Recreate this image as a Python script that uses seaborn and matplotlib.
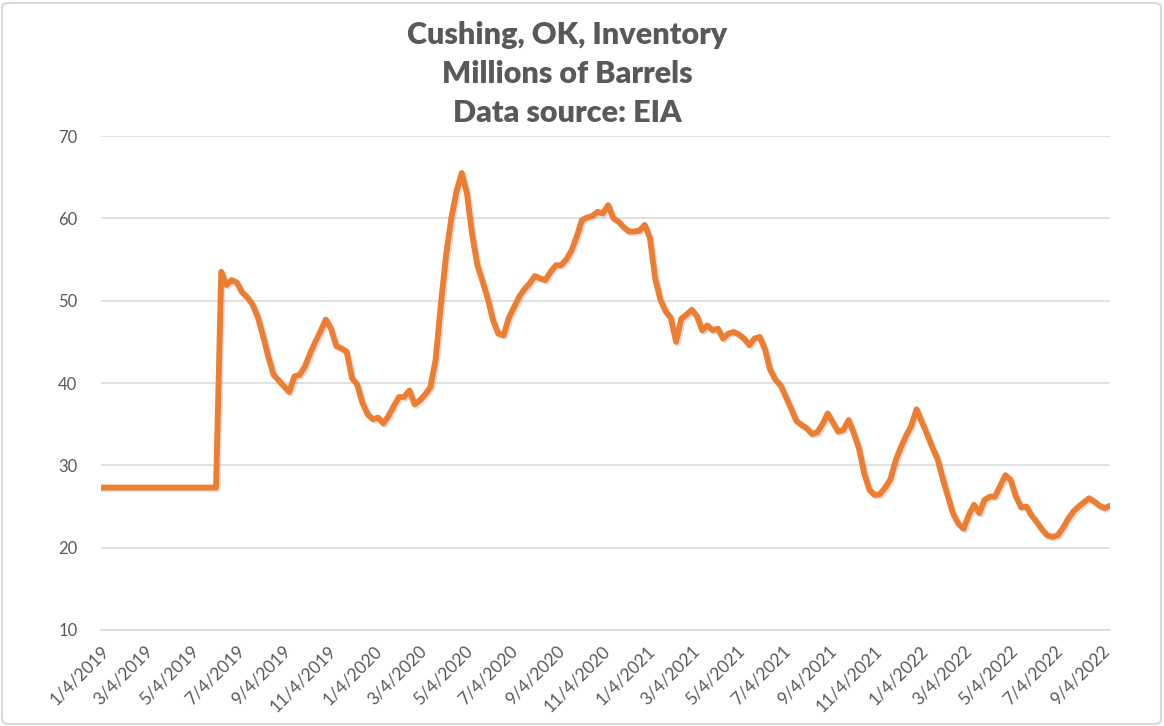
import numpy as np
import pandas as pd
import matplotlib
matplotlib.use("Agg")
import matplotlib.pyplot as plt
import matplotlib.dates as mdates
import matplotlib.patheffects as pe
from matplotlib.patches import FancyBboxPatch
import seaborn as sns

# ---------------- data ----------------
start_date = "2019-01-04"
n_weeks = 194
inventory = [
    27.3, 27.3, 27.3, 27.3, 27.3, 27.3, 27.3, 27.3, 27.3, 27.3,
    27.3, 27.3, 27.3, 27.3, 27.3, 27.3, 27.3, 27.3, 27.3, 27.3,
    27.3, 27.3, 27.3, 53.5, 51.9, 52.5, 52.2, 51.0, 50.4, 49.5,
    48.0, 45.7, 43.2, 41.0, 40.3, 39.6, 38.9, 40.8, 41.0, 42.0,
    43.6, 45.0, 46.3, 47.7, 46.6, 44.5, 44.2, 43.8, 40.6, 39.8,
    37.6, 36.2, 35.6, 35.8, 35.1, 36.0, 37.2, 38.3, 38.3, 39.1,
    37.4, 37.9, 38.6, 39.5, 42.8, 49.5, 55.5, 60.0, 63.3, 65.5,
    63.0, 58.0, 54.3, 52.3, 50.2, 47.6, 46.0, 45.8, 47.9, 49.2,
    50.5, 51.4, 52.1, 53.0, 52.7, 52.5, 53.5, 54.3, 54.3, 55.0,
    56.1, 57.8, 59.8, 60.1, 60.3, 60.8, 60.6, 61.6, 60.0, 59.6,
    58.9, 58.4, 58.4, 58.5, 59.2, 57.6, 52.7, 50.1, 48.7, 47.9,
    45.0, 47.8, 48.3, 48.9, 48.1, 46.4, 47.0, 46.4, 46.6, 45.4,
    46.0, 46.2, 45.9, 45.4, 44.6, 45.4, 45.6, 44.1, 41.6, 40.4,
    39.7, 38.3, 36.9, 35.4, 34.9, 34.5, 33.8, 34.0, 35.0, 36.3,
    35.2, 34.1, 34.3, 35.5, 33.9, 32.0, 29.0, 27.0, 26.4, 26.5,
    27.3, 28.3, 30.6, 32.2, 33.6, 34.8, 36.8, 35.3, 33.8, 32.2,
    30.8, 28.4, 26.2, 24.1, 22.9, 22.3, 24.0, 25.2, 24.2, 25.8,
    26.2, 26.2, 27.5, 28.8, 28.2, 26.2, 24.9, 25.0, 23.9, 23.1,
    22.2, 21.5, 21.3, 21.5, 22.4, 23.5, 24.4, 25.0, 25.5, 26.0,
    25.6, 25.1, 24.8, 25.1,
]
tick_dates = ["2019-01-04", "2019-03-04", "2019-05-04", "2019-07-04", "2019-09-04",
              "2019-11-04", "2020-01-04", "2020-03-04", "2020-05-04", "2020-07-04",
              "2020-09-04", "2020-11-04", "2021-01-04", "2021-03-04", "2021-05-04",
              "2021-07-04", "2021-09-04", "2021-11-04", "2022-01-04", "2022-03-04",
              "2022-05-04", "2022-07-04", "2022-09-04"]
tick_labels = ["1/4/2019", "3/4/2019", "5/4/2019", "7/4/2019", "9/4/2019",
               "11/4/2019", "1/4/2020", "3/4/2020", "5/4/2020", "7/4/2020",
               "9/4/2020", "11/4/2020", "1/4/2021", "3/4/2021", "5/4/2021",
               "7/4/2021", "9/4/2021", "11/4/2021", "1/4/2022", "3/4/2022",
               "5/4/2022", "7/4/2022", "9/4/2022"]
y_ticks = [10, 20, 30, 40, 50, 60, 70]
title_lines = ["Cushing, OK, Inventory", "Millions of Barrels", "Data source: EIA"]

dates = pd.date_range(start_date, periods=n_weeks, freq="7D")
df = pd.DataFrame({"date": dates, "inventory": inventory})

# ---------------- style ----------------
sns.set_theme(style="white")
plt.rcParams["font.family"] = ["Lato", "DejaVu Sans"]

TEXT = "#595959"
GRID = "#d9d9d9"
ORANGE = "#ED7D31"

fig = plt.figure(figsize=(11.64, 7.26), dpi=100)
fig.patch.set_facecolor("white")
ax = fig.add_axes([101 / 1164, 1 - 630 / 726, (1110 - 101) / 1164, (630 - 136) / 726])

sns.lineplot(data=df, x="date", y="inventory", ax=ax, color=ORANGE, linewidth=4.2,
             path_effects=[pe.SimpleLineShadow(offset=(1.2, -1.2), alpha=0.25, shadow_color="#7f7f7f"),
                           pe.Normal()])

ax.set_xlim(pd.Timestamp(tick_dates[0]), df["date"].iloc[-1])
ax.set_ylim(10, 70)
ax.set_yticks(y_ticks)
ax.set_yticklabels([str(v) for v in y_ticks])
ax.set_xticks([pd.Timestamp(d) for d in tick_dates])
ax.set_xticklabels(tick_labels, rotation=45, ha="right", rotation_mode="anchor")

ax.set_xlabel("")
ax.set_ylabel("")
ax.grid(axis="y", color=GRID, linewidth=1.1)
ax.grid(axis="x", visible=False)
ax.set_axisbelow(True)
for s in ["top", "right", "left"]:
    ax.spines[s].set_visible(False)
ax.spines["bottom"].set_color(GRID)
ax.spines["bottom"].set_linewidth(1.1)

ax.tick_params(axis="y", length=0, pad=17, labelsize=12, labelcolor=TEXT)
ax.tick_params(axis="x", length=5, width=1.1, color=GRID, direction="out",
               pad=4, labelsize=12.5, labelcolor=TEXT)

for i, ypix in enumerate([35, 74, 113]):
    fig.text(567 / 1164, 1 - ypix / 726, title_lines[i], ha="center", va="center",
             fontsize=22, fontweight="heavy", color=TEXT)

border = FancyBboxPatch((2 / 1164, 2 / 726), 1 - 5 / 1164, 1 - 5 / 726,
                        boxstyle="round,pad=0,rounding_size=0.006",
                        transform=fig.transFigure, fill=False,
                        edgecolor=GRID, linewidth=1.5)
fig.patches.append(border)

fig.savefig("out.png", dpi=100, facecolor="white")
